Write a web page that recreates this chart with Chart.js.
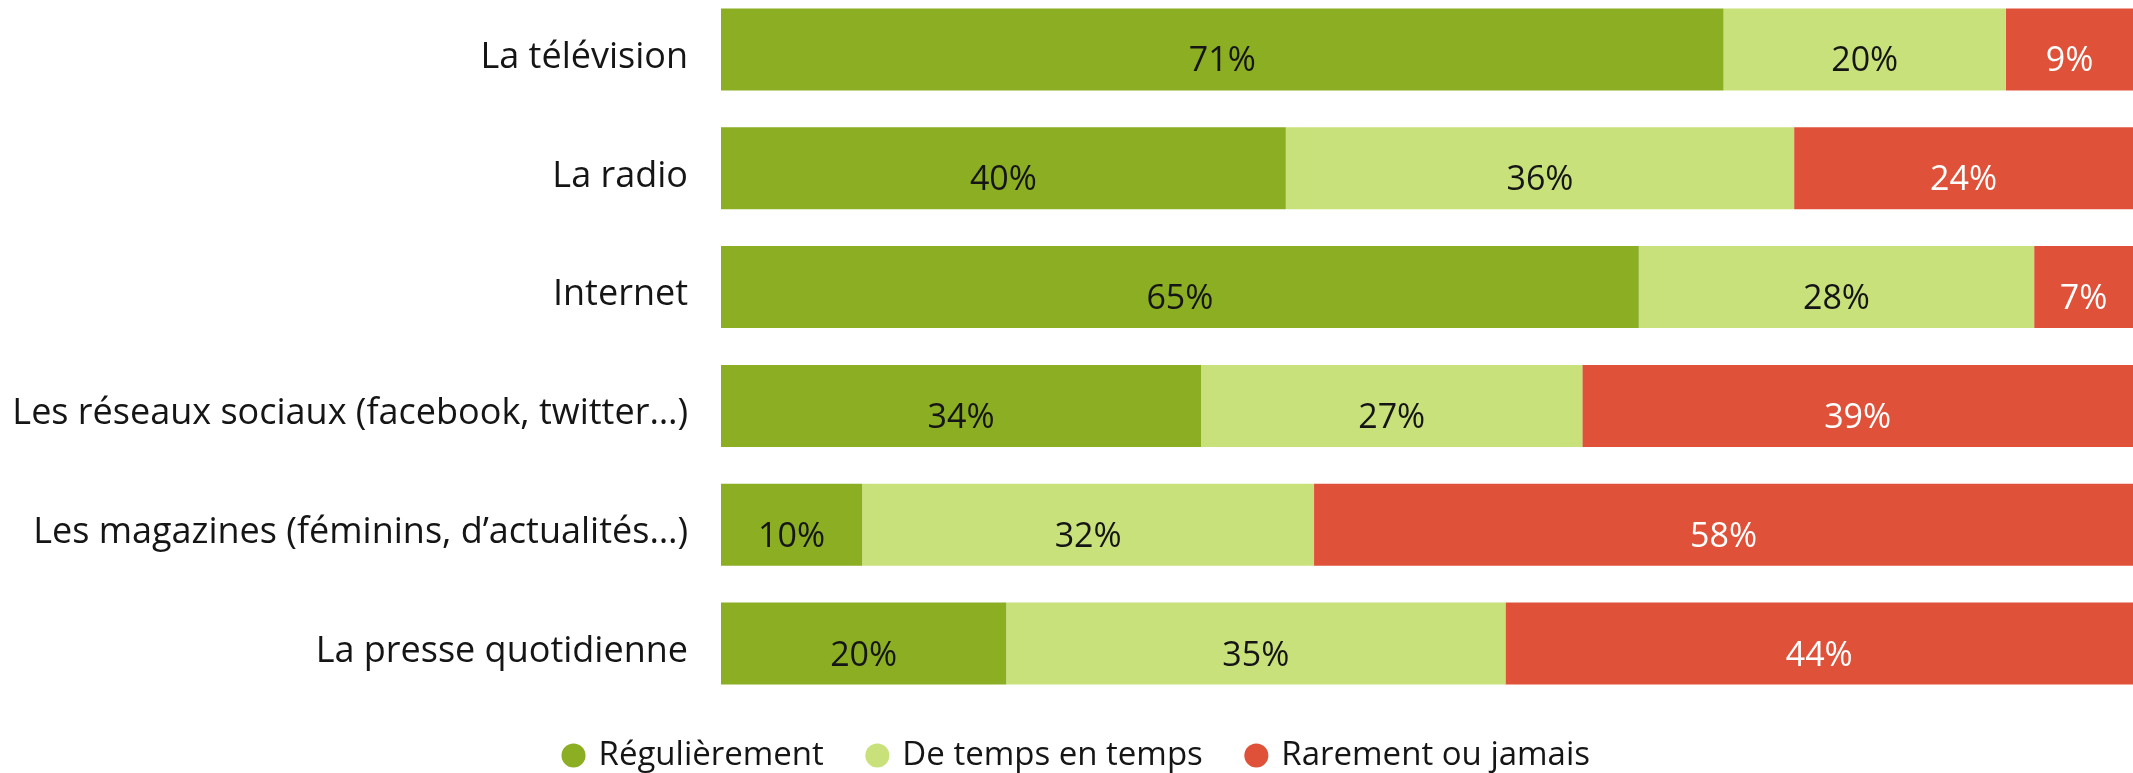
<!DOCTYPE html>
<html>
<head>
<meta charset="utf-8">
<script src="https://cdn.jsdelivr.net/npm/chart.js@4/dist/chart.umd.min.js"></script>
<style>
  html, body { margin: 0; padding: 0; background: #fff; }
  #wrap { width: 2133px; height: 773px; overflow: hidden; }
  #mediaChart { display: block; margin-top: -10px; }
</style>
</head>
<body>
<div id="wrap"><canvas id="mediaChart" width="2133" height="783"></canvas></div>
<script>
  var categories = [
    'La télévision',
    'La radio',
    'Internet',
    'Les réseaux sociaux (facebook, twitter…)',
    'Les magazines (féminins, d\u2019actualités…)',
    'La presse quotidienne'
  ];
  var seriesNames = ['Régulièrement', 'De temps en temps', 'Rarement ou jamais'];
  var regulierement = [71, 40, 65, 34, 10, 20];
  var deTempsEnTemps = [20, 36, 28, 27, 32, 35];
  var rarement = [9, 24, 7, 39, 58, 44];
  var colors = ['#8bae23', '#c8e17a', '#df5239'];
  var labelColors = ['#151515', '#151515', '#ffffff'];

  var raw = [regulierement, deTempsEnTemps, rarement];
  var totals = categories.map(function(c, i) {
    return regulierement[i] + deTempsEnTemps[i] + rarement[i];
  });

  // each row fills the full width, labels keep the values read on the picture
  var datasets = raw.map(function(values, d) {
    return {
      label: seriesNames[d],
      data: values.map(function(v, i) { return v / totals[i] * 100; }),
      rawValues: values,
      backgroundColor: colors[d],
      borderWidth: 0,
      barPercentage: 1,
      categoryPercentage: 0.69
    };
  });

  var valueLabels = {
    id: 'valueLabels',
    afterDatasetsDraw: function(chart) {
      var ctx = chart.ctx;
      ctx.save();
      ctx.font = '400 34px "Open Sans"';
      ctx.textAlign = 'center';
      ctx.textBaseline = 'alphabetic';
      chart.data.datasets.forEach(function(ds, d) {
        var meta = chart.getDatasetMeta(d);
        meta.data.forEach(function(el, i) {
          ctx.fillStyle = labelColors[d];
          ctx.fillText(ds.rawValues[i] + '%', (el.x + el.base) / 2, el.y + 22);
        });
      });
      ctx.restore();
    }
  };

  // nudge the legend to where it sits in the original
  var legendShift = {
    id: 'legendShift',
    afterLayout: function(chart) {
      chart.legend.top -= 9;
      chart.legend.bottom -= 9;
      chart.legend.left += 11;
      chart.legend.right += 11;
    }
  };

  new Chart(document.getElementById('mediaChart').getContext('2d'), {
    type: 'bar',
    data: { labels: categories, datasets: datasets },
    plugins: [valueLabels, legendShift],
    options: {
      indexAxis: 'y',
      responsive: false,
      animation: false,
      layout: { padding: { top: 0, right: 0, bottom: -18, left: 0 } },
      plugins: {
        tooltip: { enabled: false },
        legend: {
          position: 'bottom',
          labels: {
            usePointStyle: true,
            pointStyle: 'circle',
            boxWidth: 17,
            boxHeight: 17,
            padding: 45,
            color: '#151515',
            font: { family: 'Open Sans', size: 33 }
          }
        }
      },
      scales: {
        x: { stacked: true, min: 0, max: 100, display: false },
        y: {
          stacked: true,
          grid: { display: false },
          border: { display: false },
          ticks: { color: '#151515', padding: 25, labelOffset: 8, font: { family: 'Open Sans', size: 36 } },
          afterFit: function(scale) {
            scale.width = 721;
            scale.paddingTop = 0;
            scale.paddingBottom = 0;
          }
        }
      }
    }
  });
</script>
</body>
</html>
